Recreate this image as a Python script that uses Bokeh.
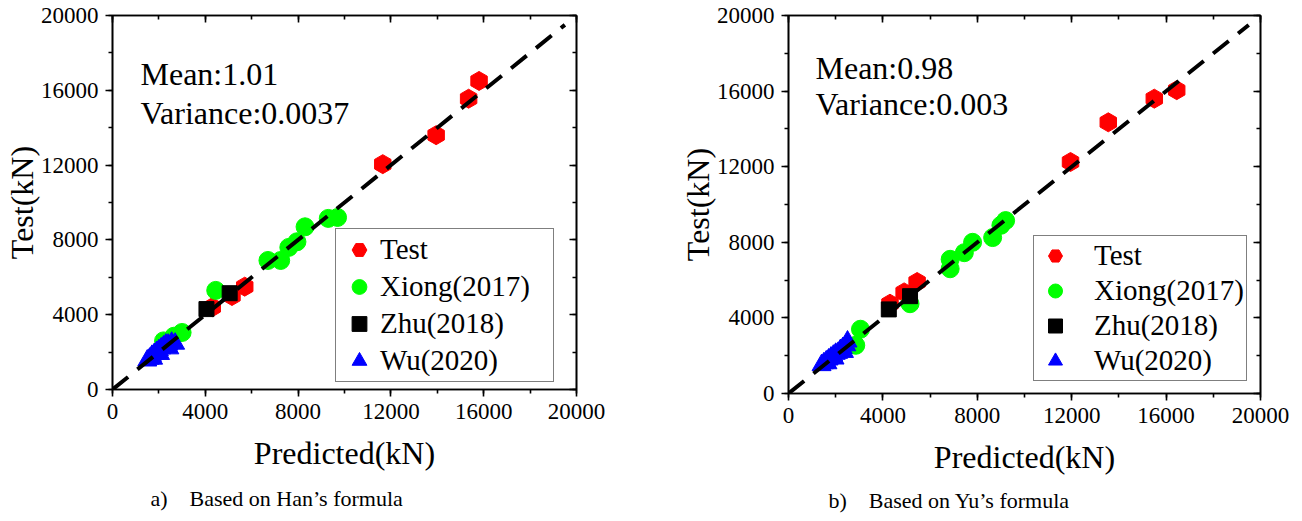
import numpy as np
from bokeh.plotting import figure
from bokeh.models import (Range1d, SingleIntervalTicker, LinearAxis, Label, Title,
                          CustomJSTickFormatter)
from bokeh.layouts import row, column
from bokeh.embed import file_html
from bokeh.resources import INLINE

FONT = "Liberation Serif"

# ---------------- data (a) Han's formula ----------------
han_test_x = [4300, 5150, 5700, 11650, 13950, 15350, 15800]
han_test_y = [4400, 5000, 5500, 12050, 13600, 15550, 16500]
han_xiong_x = [2200, 2650, 3000, 4450, 6700, 7250, 7600, 7950, 8300, 9300, 9700]
han_xiong_y = [2600, 2850, 3050, 5300, 6900, 6900, 7600, 7900, 8700, 9150, 9200]
han_zhu_x = [4050, 5050]
han_zhu_y = [4300, 5150]
han_wu_x = [1500, 1600, 1700, 1800, 1900, 2000, 2100, 2200, 2300, 2400, 2550, 2700, 1750, 2050, 2450]
han_wu_y = [1550, 1650, 1800, 1900, 2000, 2100, 2200, 2300, 2400, 2400, 2500, 2450, 1650, 1900, 2200]

# ---------------- data (b) Yu's formula ----------------
yu_test_x = [4300, 4900, 5450, 11950, 13550, 15500, 16450]
yu_test_y = [4750, 5350, 5900, 12250, 14350, 15600, 16050]
yu_xiong_x = [2850, 3050, 5150, 6850, 6850, 7450, 7800, 8650, 9000, 9200]
yu_xiong_y = [2550, 3400, 4750, 6600, 7100, 7450, 8000, 8250, 8900, 9150]
yu_zhu_x = [4250, 5150]
yu_zhu_y = [4450, 5150]
yu_wu_x = [1400, 1500, 1600, 1700, 1800, 1900, 2000, 2100, 2200, 2300, 2450, 2500, 1650, 1950, 2350]
yu_wu_y = [1500, 1600, 1700, 1800, 1900, 2000, 2100, 2150, 2300, 2400, 2550, 2750, 1600, 1850, 2200]

ref_line = [0, 19500]
axis_range = [0, 20000]
tick_interval = 4000

series_names = ["Test", "Xiong(2017)", "Zhu(2018)", "Wu(2020)"]
han_stats = ["Mean:1.01", "Variance:0.0037"]
yu_stats = ["Mean:0.98", "Variance:0.003"]
han_caption = "a)\u00a0\u00a0\u00a0\u00a0Based on Han\u2019s formula"
yu_caption = "b)\u00a0\u00a0\u00a0\u00a0Based on Yu\u2019s formula"
x_title = "Predicted(kN)"
y_title = "Test(kN)"


def style_axis(ax, labels=True, inward=False):
    ax.ticker = SingleIntervalTicker(interval=tick_interval, num_minor_ticks=2)
    ax.axis_line_width = 1.6
    ax.axis_line_color = "black"
    ax.major_tick_line_width = 1.6
    ax.minor_tick_line_width = 1.6
    ax.major_tick_line_color = "black"
    ax.minor_tick_line_color = "black"
    if inward:
        ax.major_tick_in = 7
        ax.major_tick_out = 0
        ax.minor_tick_in = 4
        ax.minor_tick_out = 0
    else:
        ax.major_tick_in = 0
        ax.major_tick_out = 7
        ax.minor_tick_in = 0
        ax.minor_tick_out = 4
    if labels:
        ax.major_label_text_font = FONT
        ax.major_label_text_font_size = "23px"
        ax.major_label_text_color = "black"
        ax.major_label_standoff = 7
        ax.axis_label_text_font = FONT
        ax.axis_label_text_font_size = "32px"
        ax.axis_label_text_font_style = "normal"
        ax.axis_label_text_color = "black"
    else:
        ax.formatter = CustomJSTickFormatter(code="return ''")
        ax.major_label_text_font_size = "0px"
        ax.major_label_standoff = 0


def make_plot(d, stats, caption, width, height, border_left, border_right, frame_h,
              legend_loc, legend_pad, legend_glyph_w, legend_glyph_h, legend_standoff,
              legend_label_w, stat_pos, caption_offset, caption_standoff):
    border_top = 15
    border_bottom = height - border_top - frame_h
    p = figure(width=width, height=height,
               x_range=Range1d(*axis_range), y_range=Range1d(*axis_range),
               output_backend="svg", toolbar_location=None,
               min_border_left=border_left, min_border_right=border_right,
               min_border_top=border_top, min_border_bottom=border_bottom)
    p.xgrid.visible = False
    p.ygrid.visible = False
    p.outline_line_color = "black"
    p.outline_line_width = 1.6
    p.background_fill_color = "white"
    p.border_fill_color = "white"

    p.xaxis.axis_label = x_title
    p.yaxis.axis_label = y_title
    style_axis(p.xaxis[0])
    style_axis(p.yaxis[0])
    p.xaxis.axis_label_standoff = 13
    p.yaxis.axis_label_standoff = -2

    top = LinearAxis()
    style_axis(top, labels=False, inward=True)
    p.add_layout(top, "above")
    right = LinearAxis()
    style_axis(right, labels=False, inward=True)
    p.add_layout(right, "right")

    (tx, ty), (xx, xy), (zx, zy), (wx, wy) = d
    p.scatter(tx, ty, marker="hex", angle=np.pi / 6, size=19, fill_color="#ff0000",
              line_color="#ff0000", legend_label=series_names[0])
    p.scatter(xx, xy, marker="circle", size=18, fill_color="#00ff00",
              line_color="#00ff00", legend_label=series_names[1])
    p.scatter(zx, zy, marker="square", size=15, fill_color="black",
              line_color="black", legend_label=series_names[2])
    p.scatter(wx, wy, marker="triangle", size=19, fill_color="#0000ff",
              line_color="#0000ff", legend_label=series_names[3])
    p.line(ref_line, ref_line, line_color="black", line_width=4, line_dash="20 12")

    for txt, (sx, sy) in zip(stats, stat_pos):
        p.add_layout(Label(x=sx, y=sy, x_units="screen", y_units="screen", text=txt,
                           text_font=FONT, text_font_size="32px", text_color="black",
                           text_baseline="alphabetic"))

    lg = p.legend[0]
    lg.location = legend_loc
    lg.label_text_font = FONT
    lg.label_text_font_size = "29px"
    lg.label_text_color = "black"
    lg.glyph_width = legend_glyph_w
    lg.glyph_height = legend_glyph_h
    lg.label_height = legend_glyph_h
    lg.label_width = legend_label_w
    lg.spacing = 0
    lg.padding = legend_pad
    lg.margin = 0
    lg.label_standoff = legend_standoff
    lg.border_line_color = "black"
    lg.border_line_width = 1.2
    lg.background_fill_color = "white"
    lg.background_fill_alpha = 1.0

    p.add_layout(Title(text=caption, align="left", offset=caption_offset,
                       text_font=FONT, text_font_size="22px", text_font_style="normal",
                       text_color="black", standoff=caption_standoff), "below")
    return p


p1 = make_plot([(han_test_x, han_test_y), (han_xiong_x, han_xiong_y),
                (han_zhu_x, han_zhu_y), (han_wu_x, han_wu_y)],
               han_stats, han_caption, width=658, height=521, border_left=110,
               border_right=82, frame_h=374, legend_loc=(223, 7), legend_pad=2,
               legend_glyph_w=42, legend_glyph_h=37, legend_standoff=0,
               legend_label_w=171, stat_pos=[(28, 316), (28, 277)],
               caption_offset=38, caption_standoff=21)
p2 = make_plot([(yu_test_x, yu_test_y), (yu_xiong_x, yu_xiong_y),
                (yu_zhu_x, yu_zhu_y), (yu_wu_x, yu_wu_y)],
               yu_stats, yu_caption, width=642, height=521, border_left=130,
               border_right=40, frame_h=378, legend_loc=(245, 12), legend_pad=2,
               legend_glyph_w=38, legend_glyph_h=35, legend_standoff=20,
               legend_label_w=148, stat_pos=[(27, 326), (27, 290)],
               caption_offset=40, caption_standoff=17)

layout = row(column(p1), column(p2))
open("out.html", "w").write(file_html(layout, INLINE))
